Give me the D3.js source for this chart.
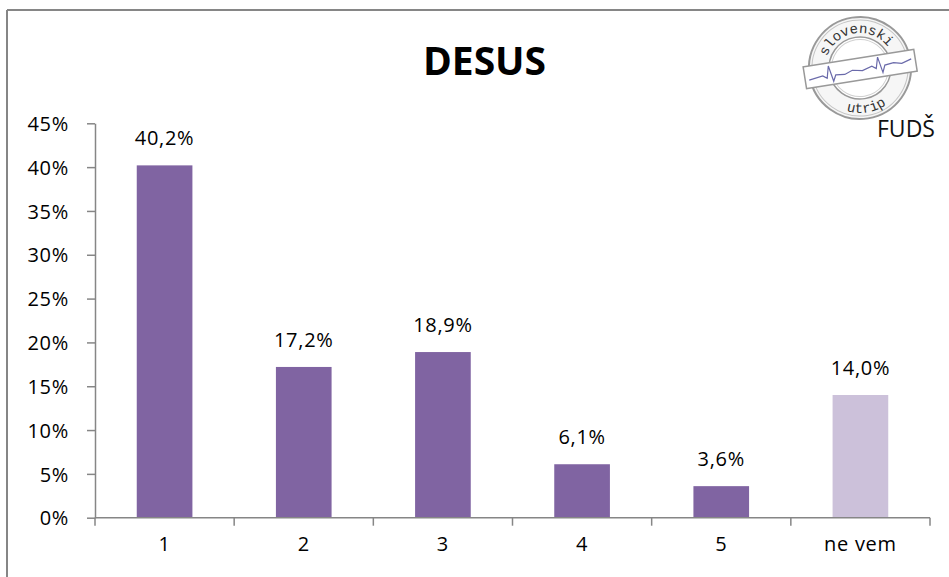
<!DOCTYPE html>
<html>
<head>
<meta charset="utf-8">
<script src="https://cdn.jsdelivr.net/npm/d3@7"></script>
<style>
  html, body { margin: 0; padding: 0; background: #fff; }
  svg { display: block; }
</style>
</head>
<body>
<svg id="chart" width="949" height="577"></svg>
<script>
// ---- data ----
const title = "DESUS";
const categories = ["1", "2", "3", "4", "5", "ne vem"];
const values = [40.2, 17.2, 18.9, 6.1, 3.6, 14.0];
const valueLabels = ["40,2%", "17,2%", "18,9%", "6,1%", "3,6%", "14,0%"];
const barColors = ["#8064A2", "#8064A2", "#8064A2", "#8064A2", "#8064A2", "#CCC1DA"];
const yTicks = [0, 5, 10, 15, 20, 25, 30, 35, 40, 45];
const yTickLabels = ["0%", "5%", "10%", "15%", "20%", "25%", "30%", "35%", "40%", "45%"];

const W = 949, H = 577;
const svg = d3.select("#chart");
const FONT = "'Open Sans', 'Noto Sans', sans-serif";
const AXIS_COLOR = "#868686";
const LABEL_SIZE = "20px";
const LABEL_SPACING = "0.7px";

// frame (only top and left edges are visible in the picture)
svg.append("line").attr("x1", 7).attr("x2", W).attr("y1", 10).attr("y2", 10)
  .attr("stroke", AXIS_COLOR).attr("stroke-width", 2);
svg.append("line").attr("x1", 7).attr("x2", 7).attr("y1", 10).attr("y2", H)
  .attr("stroke", AXIS_COLOR).attr("stroke-width", 2);

// title
svg.append("text").attr("x", 484.5).attr("y", 75)
  .attr("text-anchor", "middle")
  .style("font-family", FONT).style("font-weight", "bold").style("font-size", "39px")
  .attr("fill", "#000").text(title);

// scales
const plot = { left: 95, right: 930, top: 123.3, bottom: 517.7 };
const x = d3.scaleBand().domain(categories).range([plot.left, plot.right])
  .paddingInner(0.6).paddingOuter(0.3);
const y = d3.scaleLinear().domain([0, 45]).range([plot.bottom, plot.top]);

// bars
svg.append("g").selectAll("rect").data(categories).join("rect")
  .attr("x", d => x(d))
  .attr("width", x.bandwidth())
  .attr("y", (d, i) => y(values[i]))
  .attr("height", (d, i) => y(0) - y(values[i]))
  .attr("fill", (d, i) => barColors[i]);

// y axis
const yAxis = d3.axisLeft(y).tickValues(yTicks)
  .tickFormat((d, i) => yTickLabels[i]).tickSize(8).tickPadding(18).tickSizeOuter(0);
const gy = svg.append("g").attr("transform", `translate(${plot.left},0)`).call(yAxis);
gy.select(".domain").attr("stroke", AXIS_COLOR).attr("stroke-width", 1.5);
gy.selectAll(".tick line").attr("stroke", AXIS_COLOR).attr("stroke-width", 1.5);
gy.selectAll(".tick text").style("font-family", FONT).style("font-size", LABEL_SIZE)
  .style("letter-spacing", LABEL_SPACING).attr("fill", "#000").attr("dy", "0.36em");

// x axis: labels at centers, ticks at category boundaries
const xAxis = d3.axisBottom(x).tickSize(0).tickSizeOuter(0);
const gx = svg.append("g").attr("transform", `translate(0,${plot.bottom})`).call(xAxis);
gx.select(".domain").attr("stroke", AXIS_COLOR).attr("stroke-width", 1.5)
  .attr("d", `M${plot.left},0H${plot.right}`);
gx.selectAll(".tick text").style("font-family", FONT).style("font-size", LABEL_SIZE)
  .style("letter-spacing", LABEL_SPACING).attr("fill", "#000").attr("y", 33).attr("dy", 0);
const gap = (x.step() - x.bandwidth()) / 2;
const boundaries = categories.map(c => x(c) - gap).concat([x(categories[categories.length - 1]) + x.bandwidth() + gap]);
gx.selectAll(".bound").data(boundaries).join("line").attr("class", "bound")
  .attr("x1", d => d).attr("x2", d => d).attr("y1", 0).attr("y2", 8)
  .attr("stroke", AXIS_COLOR).attr("stroke-width", 1.5);

// data labels
svg.append("g").selectAll("text").data(categories).join("text")
  .attr("x", d => x(d) + x.bandwidth() / 2)
  .attr("y", (d, i) => y(values[i]) - 20)
  .attr("text-anchor", "middle")
  .style("font-family", FONT).style("font-size", LABEL_SIZE).style("letter-spacing", LABEL_SPACING)
  .attr("fill", "#000")
  .text((d, i) => valueLabels[i]);

// ---- logo (decoration): "slovenski utrip" stamp + FUDŠ ----
const logo = svg.append("g").attr("transform", "translate(860,68) rotate(-9)");
logo.append("circle").attr("r", 51).attr("fill", "#f6f6f6").attr("stroke", "#999").attr("stroke-width", 2);
logo.append("circle").attr("r", 48).attr("fill", "none").attr("stroke", "#c4c4c4").attr("stroke-width", 1);
logo.append("circle").attr("r", 31).attr("fill", "#fff").attr("stroke", "#999").attr("stroke-width", 1.5);
logo.append("circle").attr("r", 28.5).attr("fill", "none").attr("stroke", "#d0d0d0").attr("stroke-width", 1);
const defs = svg.append("defs");
defs.append("path").attr("id", "arcTop").attr("d", "M -35,0 A 35,35 0 0 1 35,0");
defs.append("path").attr("id", "arcBot").attr("d", "M -45,0 A 45,45 0 0 0 45,0");
logo.append("text").style("font-family", "'Liberation Mono', 'DejaVu Sans Mono', monospace")
  .style("font-size", "14px").attr("fill", "#333")
  .append("textPath").attr("href", "#arcTop").attr("startOffset", "50%").attr("text-anchor", "middle")
  .text("slovenski");
logo.append("text").style("font-family", "'Liberation Mono', 'DejaVu Sans Mono', monospace")
  .style("font-size", "14px").attr("fill", "#333")
  .append("textPath").attr("href", "#arcBot").attr("startOffset", "50%").attr("text-anchor", "middle")
  .text("utrip");
logo.append("rect").attr("x", -56).attr("y", -10).attr("width", 112).attr("height", 22)
  .attr("fill", "#fff").attr("stroke", "#999").attr("stroke-width", 1.5);
logo.append("path")
  .attr("d", "M -52,4 L -38,2 L -34,5 L -31,-7 L -28,9 L -25,3 L -16,4 L -8,1 L 2,3 L 12,0 L 16,3 L 19,-8 L 22,8 L 25,1 L 34,0 L 42,2 L 52,-1")
  .attr("fill", "none").attr("stroke", "#6a6aaa").attr("stroke-width", 1.2);
svg.append("text").attr("x", 877).attr("y", 137)
  .style("font-family", FONT).style("font-size", "23px").attr("fill", "#111").text("FUDŠ");
</script>
</body>
</html>
